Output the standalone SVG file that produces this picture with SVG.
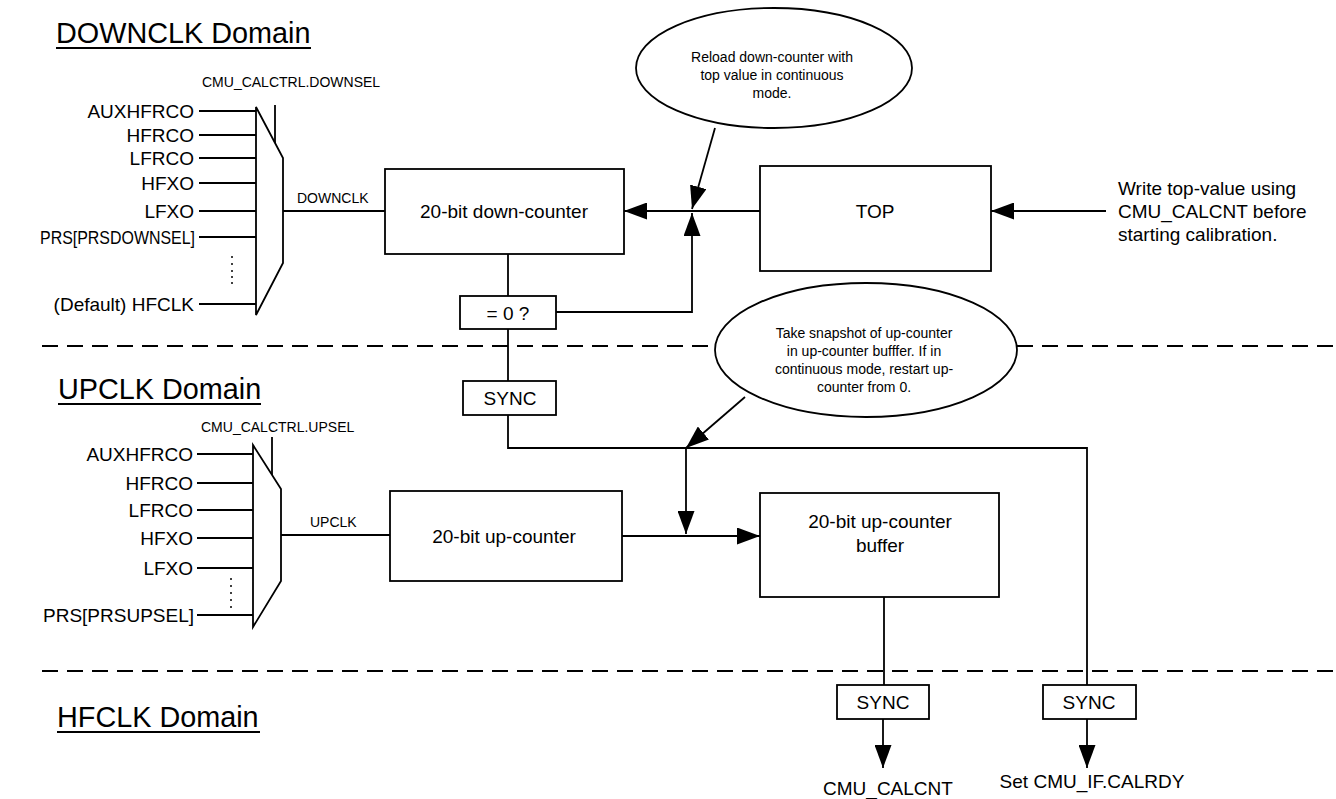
<svg xmlns="http://www.w3.org/2000/svg" width="1336" height="799" viewBox="0 0 1336 799">
<style>
text{font-family:"Liberation Sans",Arial,sans-serif;fill:#000}
.t19{font-size:19px}
.t14{font-size:14px}
.title{font-size:28.8px}
.box{fill:#fff;stroke:#000;stroke-width:1.8}
.ln{fill:none;stroke:#000;stroke-width:1.8}
.dash{fill:none;stroke:#000;stroke-width:1.8;stroke-dasharray:16 9}
.arr{fill:none;stroke:#000;stroke-width:1.8;marker-end:url(#ah)}
.mid{text-anchor:middle}
.end{text-anchor:end}
</style>
<defs>
<marker id="ah" markerUnits="userSpaceOnUse" markerWidth="23" markerHeight="17" refX="23" refY="8.5" orient="auto">
<path d="M0,0 L23,8.5 L0,17 z" fill="#000"/>
</marker>
</defs>
<rect width="1336" height="799" fill="#fff"/>

<g id="domains">
<line class="dash" x1="42" y1="346" x2="1336" y2="346"/>
<line class="dash" x1="42" y1="671" x2="1336" y2="671"/>
<text class="title" x="56" y="43">DOWNCLK Domain</text>
<line class="ln" x1="56" y1="48" x2="311" y2="48" stroke-width="2.2"/>
<text class="title" x="58" y="399">UPCLK Domain</text>
<line class="ln" x1="58" y1="404" x2="261" y2="404" stroke-width="2.2"/>
<text class="title" x="57" y="727">HFCLK Domain</text>
<line class="ln" x1="57" y1="732" x2="260" y2="732" stroke-width="2.2"/>
</g>

<g id="connectors">
<line class="ln" x1="199" y1="111" x2="256" y2="111"/>
<line class="ln" x1="199" y1="135" x2="256" y2="135"/>
<line class="ln" x1="199" y1="158" x2="256" y2="158"/>
<line class="ln" x1="199" y1="183" x2="256" y2="183"/>
<line class="ln" x1="199" y1="211" x2="256" y2="211"/>
<line class="ln" x1="199" y1="237" x2="256" y2="237"/>
<line class="ln" x1="199" y1="304" x2="256" y2="304"/>
<line class="ln" x1="275" y1="105" x2="275" y2="143"/>
<line class="ln" x1="283" y1="211" x2="385" y2="211"/>
<line class="ln" x1="197" y1="454" x2="253" y2="454"/>
<line class="ln" x1="197" y1="483" x2="253" y2="483"/>
<line class="ln" x1="197" y1="510" x2="253" y2="510"/>
<line class="ln" x1="197" y1="538" x2="253" y2="538"/>
<line class="ln" x1="197" y1="568" x2="253" y2="568"/>
<line class="ln" x1="197" y1="615" x2="253" y2="615"/>
<line class="ln" x1="272" y1="437" x2="272" y2="478"/>
<line class="ln" x1="281" y1="535" x2="390" y2="535"/>
<line class="arr" x1="760" y1="211" x2="624" y2="211"/>
<line class="arr" x1="1106" y1="211" x2="991" y2="211"/>
<line class="arr" x1="715" y1="128" x2="692" y2="209"/>
<polyline class="arr" points="556,312 692,312 692,213"/>
<line class="ln" x1="508" y1="254" x2="508" y2="296"/>
<line class="ln" x1="508" y1="329" x2="508" y2="381"/>
<polyline class="ln" points="508,415 508,448 1087,448 1087,685"/>
<line class="arr" x1="745" y1="397" x2="686" y2="448"/>
<line class="arr" x1="686" y1="448" x2="686" y2="534"/>
<line class="arr" x1="622" y1="536" x2="760" y2="536"/>
<line class="ln" x1="884" y1="597" x2="884" y2="685"/>
<line class="arr" x1="883" y1="719" x2="883" y2="768"/>
<line class="arr" x1="1087" y1="719" x2="1087" y2="768"/>
</g>

<g id="mux-down">
<polygon class="box" points="256,107 283,158 283,263 256,315"/>
<text class="t14" x="202" y="87">CMU_CALCTRL.DOWNSEL</text>
<text class="t14" x="297" y="203">DOWNCLK</text>
<text class="t19 end" x="194" y="118">AUXHFRCO</text>
<text class="t19 end" x="194" y="142">HFRCO</text>
<text class="t19 end" x="194" y="165">LFRCO</text>
<text class="t19 end" x="194" y="190">HFXO</text>
<text class="t19 end" x="194" y="218">LFXO</text>
<text class="t19" x="40" y="244" textLength="155" lengthAdjust="spacingAndGlyphs">PRS[PRSDOWNSEL]</text>
<text class="t19 end" x="194" y="311">(Default) HFCLK</text>
<g fill="#000"><circle cx="232" cy="257" r="1"/><circle cx="232" cy="264" r="1"/><circle cx="232" cy="271" r="1"/><circle cx="232" cy="277" r="1"/><circle cx="232" cy="283" r="1"/></g>
</g>

<g id="mux-up">
<polygon class="box" points="253,445 281,489 281,581 253,627"/>
<text class="t14" x="201" y="432">CMU_CALCTRL.UPSEL</text>
<text class="t14" x="310" y="527">UPCLK</text>
<text class="t19 end" x="193" y="461">AUXHFRCO</text>
<text class="t19 end" x="193" y="490">HFRCO</text>
<text class="t19 end" x="193" y="517">LFRCO</text>
<text class="t19 end" x="193" y="545">HFXO</text>
<text class="t19 end" x="193" y="575">LFXO</text>
<text class="t19 end" x="194" y="622">PRS[PRSUPSEL]</text>
<g fill="#000"><circle cx="231" cy="579" r="1"/><circle cx="231" cy="586" r="1"/><circle cx="231" cy="593" r="1"/><circle cx="231" cy="600" r="1"/><circle cx="231" cy="607" r="1"/></g>
</g>

<g id="down-counter">
<rect class="box" x="385" y="169" width="239" height="85"/>
<text class="t19 mid" x="504" y="218">20-bit down-counter</text>
</g>

<g id="top">
<rect class="box" x="760" y="166" width="231" height="105"/>
<text class="t19 mid" x="875" y="218">TOP</text>
</g>

<g id="write-note">
<text class="t19" x="1118" y="195">Write top-value using</text>
<text class="t19" x="1118" y="218">CMU_CALCNT before</text>
<text class="t19" x="1118" y="241">starting calibration.</text>
</g>

<g id="reload-note">
<ellipse class="box" cx="774" cy="68" rx="138" ry="60"/>
<text class="t14 mid" x="772" y="62">Reload down-counter with</text>
<text class="t14 mid" x="772" y="80">top value in continuous</text>
<text class="t14 mid" x="772" y="98">mode.</text>
</g>

<g id="eq0">
<rect class="box" x="460" y="296" width="96" height="33"/>
<text class="t19 mid" x="508" y="320">= 0 ?</text>
</g>

<g id="snapshot-note">
<ellipse class="box" cx="866" cy="350" rx="151" ry="67"/>
<text class="t14 mid" x="864" y="338">Take snapshot of up-counter</text>
<text class="t14 mid" x="864" y="356">in up-counter bufffer. If in</text>
<text class="t14 mid" x="864" y="374">continuous mode, restart up-</text>
<text class="t14 mid" x="864" y="392">counter from 0.</text>
</g>

<g id="sync1">
<rect class="box" x="463" y="381" width="93" height="34"/>
<text class="t19 mid" x="510" y="405">SYNC</text>
</g>

<g id="up-counter">
<rect class="box" x="390" y="491" width="232" height="90"/>
<text class="t19 mid" x="504" y="543">20-bit up-counter</text>
</g>

<g id="buffer">
<rect class="box" x="760" y="493" width="239" height="104"/>
<text class="t19 mid" x="880" y="528">20-bit up-counter</text>
<text class="t19 mid" x="880" y="552">buffer</text>
</g>

<g id="sync2">
<rect class="box" x="837" y="685" width="92" height="34"/>
<text class="t19 mid" x="883" y="709">SYNC</text>
</g>

<g id="sync3">
<rect class="box" x="1043" y="685" width="93" height="34"/>
<text class="t19 mid" x="1089" y="709">SYNC</text>
</g>

<g id="outputs">
<text class="t19 mid" x="888" y="795">CMU_CALCNT</text>
<text class="t19 mid" x="1092" y="788">Set CMU_IF.CALRDY</text>
</g>
</svg>
